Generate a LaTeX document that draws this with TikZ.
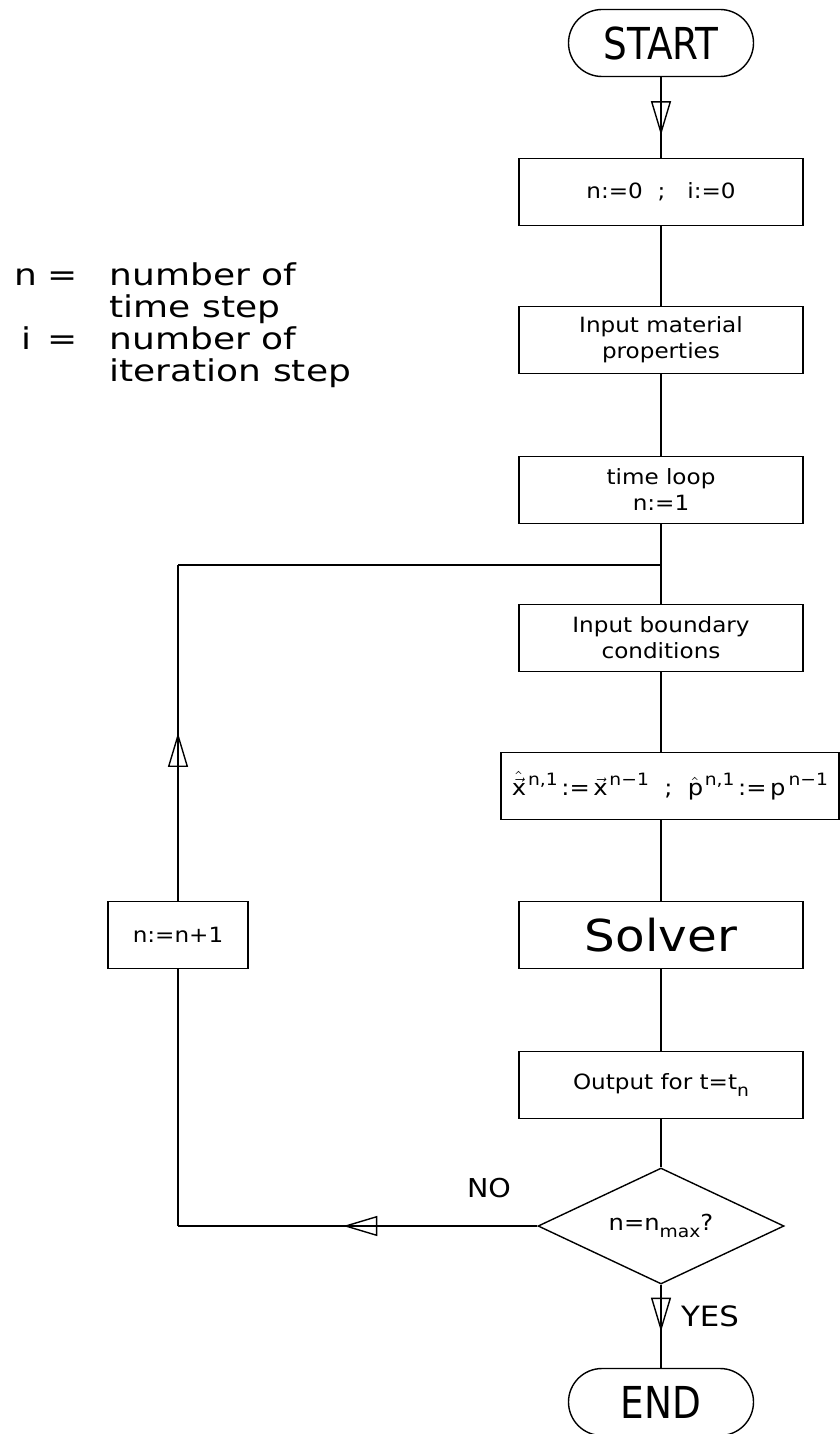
\documentclass[tikz,border=0pt]{standalone}
\usepackage{fontspec}
\setmainfont{DejaVu Sans}[FakeStretch=1.1]
\newfontfamily\legendfont{DejaVu Sans}[FakeStretch=1.2]
\newfontfamily\termfont{DejaVu Sans}[FakeStretch=0.85]
\newcommand\suptx[1]{\kern1.5pt\raisebox{0.85ex}{\fontsize{8.5}{9}\selectfont #1}}
\newcommand\subtx[1]{\raisebox{-0.55ex}{\fontsize{8.5}{9}\selectfont #1}}
\usetikzlibrary{shapes.geometric,arrows.meta,decorations.markings}

\begin{document}
\begin{tikzpicture}[x=0.5pt,y=-0.5pt,line width=0.7pt,
  box/.style={draw,rectangle,minimum width=142pt,minimum height=33.5pt,align=center,inner sep=2pt,font=\fontsize{10.5}{13}\selectfont},
  term/.style={draw,rectangle,rounded corners=16.75pt,minimum width=92.5pt,minimum height=33.5pt,font=\termfont\fontsize{22}{24}\selectfont},
  midarrow/.style={postaction={decorate},decoration={markings,mark=at position #1 with {\arrow{Triangle[open,length=17pt,width=10pt]}}}}]
\useasboundingbox (0,0) rectangle (840,1434);
\node[anchor=north west,inner sep=0pt,font=\legendfont\fontsize{15}{15.5}\selectfont] (legend) at (14,262) {%
  \begin{tabular}{@{}c@{\hspace{5pt}}c@{\hspace{16pt}}l@{}}
  n & = & number of\\
    &   & time step\\
  i & = & number of\\
    &   & iteration step
  \end{tabular}};
\node[term] (start) at (661,43) {START};
\node[box] (init) at (661,192) {n:=0\ \ ;\ \ \ i:=0};
\node[box] (mat) at (661,340) {Input material\\properties};
\node[box] (tloop) at (661,490) {time loop\\n:=1};
\coordinate (join) at (661,565);
\node[box] (bound) at (661,638) {Input boundary\\conditions};
\node[box,minimum width=169pt,font=\fontsize{11}{13}\selectfont] (pred) at (670,786) {%
  \(\hat{\vec{\mathrm{x}}}\)\suptx{n,1}\,:=\,\(\vec{\mathrm{x}}\)\suptx{n−1}\ \ ;\ \ \(\hat{\mathrm{p}}\)\suptx{n,1}\,:=\,p\suptx{n−1}};
\node[box,font=\fontsize{22}{24}\selectfont] (solver) at (661,935) {Solver};
\node[box] (output) at (661,1085) {Output for t=t\subtx{n}};
\node[draw,diamond,aspect=2.12,minimum width=123pt,minimum height=58pt,inner sep=0pt,font=\fontsize{11}{12}\selectfont] (dec) at (661,1226) {n=n\subtx{max}?};
\node[term] (stop) at (661,1402) {END};
\node[box,minimum width=70pt] (incr) at (178,935) {n:=n+1};
\node[font=\fontsize{13}{15}\selectfont] (nolab) at (489,1188) {NO};
\node[font=\fontsize{14}{16}\selectfont] (yeslab) at (710,1316) {YES};
\coordinate (noturn) at (dec.west -| incr);
\coordinate (upturn) at (join -| incr);
\draw[midarrow=0.72] (start) -- (init);
\draw (init) -- (mat);
\draw (mat) -- (tloop);
\draw (tloop) -- (bound);
\draw (bound.south) -- (bound.south |- pred.north);
\draw (pred.south -| solver) -- (solver);
\draw (solver) -- (output);
\draw (output) -- (dec);
\draw[midarrow=0.565] (dec.south) -- (stop.north);
\draw[midarrow=0.54] (dec.west) -- (noturn);
\draw (noturn) -- (incr.south);
\draw[midarrow=0.5] (incr.north) -- (upturn);
\draw (upturn) -- (join);
\end{tikzpicture}
\end{document}
